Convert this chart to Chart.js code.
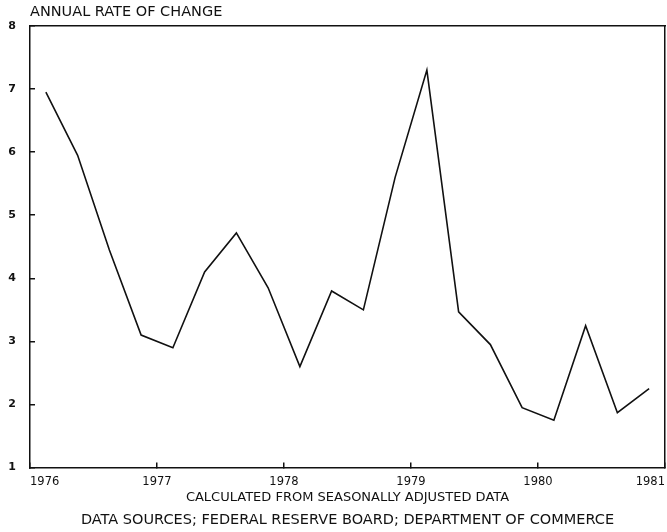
<!DOCTYPE html>
<html>
<head>
<meta charset="utf-8">
<title>Annual rate of change</title>
<script src="https://cdn.jsdelivr.net/npm/chart.js@4"></script>
<style>
  html, body { margin: 0; padding: 0; background: #fff; }
  #wrap { width: 667px; height: 532px; position: relative; }
</style>
</head>
<body>
<div id="wrap"><canvas id="chart"></canvas></div>
<script>
// quarterly observations, plotted at mid-quarter
const quarters = [1976.125, 1976.375, 1976.625, 1976.875,
                  1977.125, 1977.375, 1977.625, 1977.875,
                  1978.125, 1978.375, 1978.625, 1978.875,
                  1979.125, 1979.375, 1979.625, 1979.875,
                  1980.125, 1980.375, 1980.625, 1980.875];
const rateOfChange = [6.95, 5.95, 4.45, 3.1,
                      2.9, 4.1, 4.72, 3.85,
                      2.6, 3.8, 3.5, 5.6,
                      7.3, 3.47, 2.95, 1.95,
                      1.75, 3.25, 1.87, 2.25];
const yearTicks = [1976, 1977, 1978, 1979, 1980, 1981];
const rateTicks = [1, 2, 3, 4, 5, 6, 7, 8];

const ink = '#111';
const font = 'DejaVu Sans';

const points = quarters.map((q, i) => ({ x: q, y: rateOfChange[i] }));

// top and right edges of the box: border only, no ticks
const frame = {
  display: true,
  grid: { display: false, drawTicks: false, tickLength: 0 },
  border: { display: true, color: ink, width: 1.5 },
  ticks: { display: false }
};

new Chart(document.getElementById('chart').getContext('2d'), {
  type: 'line',
  data: {
    datasets: [{
      data: points,
      borderColor: ink,
      borderWidth: 1.6,
      pointRadius: 0,
      tension: 0,
      fill: false
    }]
  },
  options: {
    responsive: true,
    maintainAspectRatio: false,
    animation: false,
    layout: { padding: { left: 0, right: 2, top: 0, bottom: 0 } },
    plugins: {
      legend: { display: false },
      tooltip: { enabled: false },
      title: {
        display: true,
        text: 'ANNUAL RATE OF CHANGE',
        align: 'start',
        fullSize: false,
        color: ink,
        font: { family: font, size: 14.5, weight: 'normal', lineHeight: 1.1 },
        padding: { top: 4, bottom: 6 }
      },
      subtitle: {
        display: true,
        position: 'bottom',
        fullSize: false,
        text: 'DATA SOURCES; FEDERAL RESERVE BOARD; DEPARTMENT OF COMMERCE',
        color: ink,
        font: { family: font, size: 14.5 },
        padding: { top: 0, bottom: 3 }
      }
    },
    scales: {
      x: {
        type: 'linear',
        min: yearTicks[0],
        max: yearTicks[yearTicks.length - 1],
        afterBuildTicks: (axis) => { axis.ticks = yearTicks.map(v => ({ value: v })); },
        afterFit: (axis) => { axis.height = 44; axis.paddingRight = 0; axis.paddingLeft = 0; },
        grid: { drawOnChartArea: false, drawTicks: true, tickLength: -5, color: ink, lineWidth: 1.5 },
        border: { display: true, color: ink, width: 1.5 },
        ticks: {
          align: 'inner',
          padding: 13,
          color: ink,
          font: { family: font, size: 11.5 },
          callback: (v) => String(v)
        },
        title: {
          display: true,
          text: 'CALCULATED FROM SEASONALLY ADJUSTED DATA',
          color: ink,
          font: { family: font, size: 13 },
          padding: { top: 0, bottom: 6 }
        }
      },
      y: {
        min: rateTicks[0],
        max: rateTicks[rateTicks.length - 1],
        afterBuildTicks: (axis) => { axis.ticks = rateTicks.map(v => ({ value: v })); },
        afterFit: (axis) => { axis.width = 30; },
        grid: { drawOnChartArea: false, drawTicks: true, tickLength: -5, color: ink, lineWidth: 1.5 },
        border: { display: true, color: ink, width: 1.5 },
        ticks: {
          padding: 19,
          color: ink,
          font: { family: font, size: 11, weight: 'bold' }
        }
      },
      xTop: Object.assign({ type: 'linear', position: 'top', min: 1976, max: 1981 }, frame),
      yRight: Object.assign({ position: 'right', min: 1, max: 8, afterFit: (axis) => { axis.width = 0; } }, frame)
    }
  }
});
</script>
</body>
</html>
